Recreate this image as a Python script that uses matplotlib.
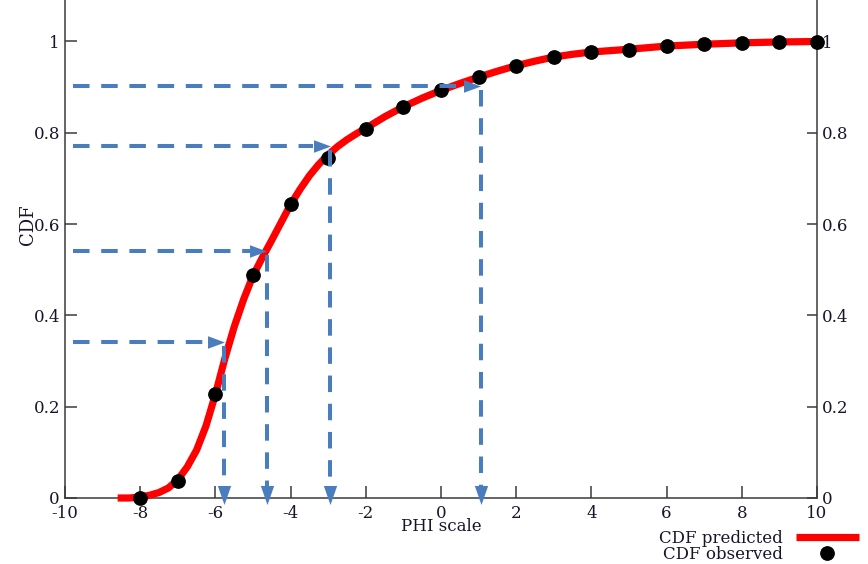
import matplotlib
matplotlib.use("Agg")
import matplotlib.pyplot as plt
from matplotlib.transforms import offset_copy

# ---------------- data ----------------
obs_x = [-8, -7, -6, -5, -4, -3, -2, -1, 0, 1, 2, 3, 4, 5, 6, 7, 8, 9, 10]
obs_y = [0.0, 0.038, 0.227, 0.489, 0.643, 0.745, 0.809, 0.857, 0.893, 0.922,
         0.946, 0.966, 0.977, 0.982, 0.990, 0.995, 0.997, 0.998, 0.999]

pred_x = [-8.6, -8.3, -8.0, -7.75, -7.5, -7.25, -7.0, -6.75, -6.5, -6.25, -6.0,
          -5.75, -5.5, -5.25, -5.0, -4.75, -4.5, -4.25, -4.0, -3.75, -3.5, -3.25,
          -3.0, -2.75, -2.5, -2.25, -2.0, -1.5, -1.0, -0.5, 0.0, 0.5, 1.0, 1.5,
          2.0, 2.5, 3.0, 3.5, 4.0, 4.5, 5.0, 6.0, 7.0, 8.0, 9.0, 10.0]
pred_y = [0.0, 0.0, 0.002, 0.006, 0.012, 0.022, 0.040, 0.068, 0.105, 0.158, 0.227,
          0.305, 0.375, 0.435, 0.487, 0.527, 0.565, 0.604, 0.643, 0.676, 0.706, 0.731,
          0.752, 0.770, 0.785, 0.798, 0.810, 0.835, 0.857, 0.876, 0.893, 0.908, 0.922,
          0.935, 0.947, 0.957, 0.966, 0.972, 0.977, 0.980, 0.983, 0.990, 0.994, 0.997,
          0.999, 1.0]

arrow_x = [-5.77, -4.63, -2.95, 1.06]
arrow_y = [0.342, 0.540, 0.771, 0.902]
arrow_start_x = -9.8

x_ticks = [-10, -8, -6, -4, -2, 0, 2, 4, 6, 8, 10]
y_ticks = [0, 0.2, 0.4, 0.6, 0.8, 1]
y_tick_labels = ["0", "0.2", "0.4", "0.6", "0.8", "1"]

# ---------------- style ----------------
W, H, DPI = 868, 564, 100
FONT = "DejaVu Serif"
TXT = "#16162a"
BLUE = "#4a7dbd"
RED = "#ff0000"
SPINE = "#3a3a3a"
FS = 12

plt.rcParams["font.family"] = [FONT, "DejaVu Sans"]
plt.rcParams["font.size"] = FS

fig = plt.figure(figsize=(W / DPI, H / DPI), dpi=DPI)
left, right = 65 / W, 817 / W
bottom = (H - 498) / H
ax = fig.add_axes([left, bottom, right - left, 1.0 - bottom])

ax.set_xlim(-10, 10)
ax.set_ylim(0, 1 + 41.5 / 456.5)

for s in ["left", "right", "bottom"]:
    ax.spines[s].set_color(SPINE)
    ax.spines[s].set_linewidth(1.1)
ax.spines["top"].set_visible(False)

ax.set_xticks(x_ticks)
ax.set_xticklabels([str(t) for t in x_ticks])
ax.set_yticks(y_ticks)
ax.set_yticklabels(y_tick_labels)
ax.tick_params(axis="x", direction="in", length=8.6, width=1.1, color=SPINE,
               labelcolor=TXT, labelsize=FS, pad=5)
ax.tick_params(axis="y", which="major", direction="in", width=1.1, color=SPINE,
               labelcolor=TXT, labelsize=FS, left=True, right=True,
               labelleft=True, labelright=True, pad=3.6)
for t in ax.yaxis.get_major_ticks():
    t.tick1line.set_markersize(8.6)
    t.tick2line.set_markersize(7.0)

# ---------------- curves ----------------
ax.plot(pred_x, pred_y, color=RED, lw=5.2, solid_capstyle="butt",
        solid_joinstyle="round", zorder=3, clip_on=False, label="CDF predicted")
ax.plot(obs_x, obs_y, "o", color="black", markersize=9.6, zorder=4,
        clip_on=False, label="CDF observed")

# ---------------- arrows ----------------
fig.canvas.draw()
px_per_x = ax.transData.transform((1, 0))[0] - ax.transData.transform((0, 0))[0]
px_per_y = ax.transData.transform((0, 1))[1] - ax.transData.transform((0, 0))[1]
pt2px = DPI / 72.0

down_head = [(-0.35, 0.5), (0.35, 0.5), (0.0, -0.5)]
right_head = [(-0.5, -0.37), (-0.5, 0.37), (0.5, 0.0)]
ms_down = 13.7
ms_right = 12.2
tip_y = -7.0 / px_per_y
dash = (0, (4.1, 2.9))
lw_dash = 2.9

t_down = offset_copy(ax.transData, fig=fig, x=0, y=ms_down / 2, units="points")
t_right = offset_copy(ax.transData, fig=fig, x=-ms_right / 2, y=0, units="points")

for xa, ya in zip(arrow_x, arrow_y):
    hx_end = xa - ms_right * pt2px / px_per_x
    ax.plot([arrow_start_x, hx_end], [ya, ya], color=BLUE, lw=lw_dash,
            linestyle=dash, dash_capstyle="butt", zorder=5, clip_on=False)
    ax.plot([xa], [ya], marker=right_head, color=BLUE, markersize=ms_right,
            markeredgewidth=0, transform=t_right, zorder=6, clip_on=False)
    vy_end = tip_y + ms_down * pt2px / px_per_y
    ax.plot([xa, xa], [ya - 4 / px_per_y, vy_end], color=BLUE, lw=lw_dash,
            linestyle=dash, dash_capstyle="butt", zorder=5, clip_on=False)
    ax.plot([xa], [tip_y], marker=down_head, color=BLUE, markersize=ms_down,
            markeredgewidth=0, transform=t_down, zorder=6, clip_on=False)

# ---------------- labels ----------------
ax.set_xlabel("PHI scale", color=TXT, fontsize=FS)
ax.xaxis.set_label_coords(0.5, (498 - 518) / 498)
ax.set_ylabel("CDF", color=TXT, fontsize=13)
ax.yaxis.label.set_va("center")
ax.yaxis.set_label_coords((28 - 65) / 752, (498 - 225) / 498)

leg = ax.legend(loc="upper right", bbox_to_anchor=(859 / W, 1 - 530 / H),
                bbox_transform=fig.transFigure, frameon=False, markerfirst=False,
                handlelength=3.8, handletextpad=0.75, labelspacing=-0.05,
                borderpad=0, borderaxespad=0, fontsize=FS, labelcolor=TXT)

fig.savefig("out.png", dpi=DPI)
